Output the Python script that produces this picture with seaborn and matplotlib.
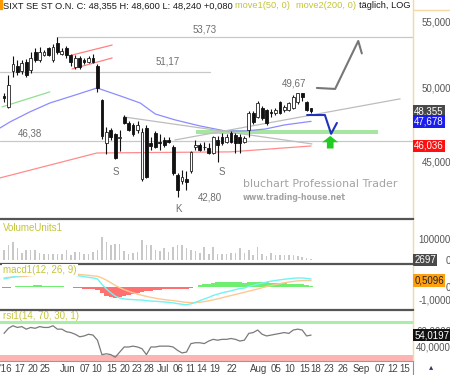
import matplotlib
matplotlib.use('Agg')
import matplotlib.pyplot as plt
import matplotlib.transforms as mtransforms
from matplotlib.patches import Polygon, Rectangle
import numpy as np
import seaborn as sns

sns.set_theme(style='white')
plt.rcParams['font.family'] = ['Liberation Sans', 'DejaVu Sans']

# ---------------- data ----------------
opens = [49.40, 48.67, 51.20, 51.60, 51.20, 51.90, 51.30, 52.60, 52.00, 52.40,
         52.90, 52.00, 53.30, 52.50, 52.90, 52.40, 51.50, 52.20, 52.00, 51.90,
         52.20, 51.60, 49.15, 46.25, 47.10, 46.80, 46.55, 48.00, 47.60, 47.45,
         47.10, 43.90, 47.20, 46.20, 46.90, 46.30, 46.45, 46.40, 46.00, 44.20,
         43.80, 43.90, 44.40, 46.00, 46.10, 46.00, 45.90, 45.58, 46.45, 46.60,
         46.30, 46.90, 46.77, 46.60, 46.30, 47.10, 48.25, 47.98, 48.60, 48.46,
         48.30, 48.25, 49.01, 48.46, 48.46, 48.60, 49.01, 49.65, 49.01, 48.60]
highs = [49.65, 50.93, 52.30, 52.00, 52.00, 52.10, 52.60, 52.90, 53.00, 52.80,
         53.00, 53.20, 53.73, 52.90, 53.10, 52.50, 52.40, 52.30, 52.20, 52.30,
         52.50, 51.70, 49.20, 47.30, 47.20, 46.90, 47.10, 48.10, 47.70, 47.60,
         47.70, 47.20, 47.40, 46.60, 47.00, 46.80, 46.60, 46.60, 46.10, 44.30,
         44.50, 44.40, 45.70, 46.40, 46.20, 46.30, 46.20, 46.70, 46.70, 46.90,
         46.80, 47.00, 46.90, 46.80, 46.70, 48.40, 48.40, 49.10, 48.70, 48.50,
         48.50, 48.60, 49.10, 48.80, 49.00, 49.50, 49.67, 49.67, 49.10, 48.60]
lows = [49.00, 48.60, 50.80, 50.90, 51.00, 50.80, 51.10, 51.90, 51.90, 52.30,
        52.30, 51.90, 52.50, 52.40, 52.20, 51.60, 51.40, 51.40, 51.70, 51.80,
        51.80, 49.70, 46.50, 45.50, 46.40, 45.20, 45.70, 47.50, 47.00, 46.70,
        46.90, 43.80, 44.00, 45.80, 45.90, 45.80, 46.00, 46.20, 44.20, 42.80,
        43.60, 43.25, 44.30, 45.80, 45.70, 45.80, 45.50, 45.50, 45.00, 46.10,
        46.20, 46.20, 45.58, 45.60, 46.20, 46.60, 47.50, 47.90, 47.80, 47.40,
        48.00, 48.10, 48.20, 48.30, 48.40, 48.50, 48.90, 49.10, 48.40, 48.24]
closes = [49.30, 50.21, 51.70, 51.15, 51.80, 50.90, 52.20, 52.00, 52.60, 52.60,
          52.40, 53.00, 52.60, 52.70, 52.40, 51.90, 52.20, 51.50, 51.85, 52.15,
          51.90, 50.00, 46.70, 46.95, 46.60, 45.25, 46.60, 47.57, 47.10, 46.80,
          47.45, 46.97, 44.05, 46.05, 45.98, 46.25, 46.10, 46.30, 44.30, 43.25,
          44.05, 43.75, 45.65, 46.10, 45.78, 45.95, 45.58, 46.60, 46.10, 46.25,
          46.60, 46.30, 46.24, 46.24, 46.57, 48.25, 47.64, 48.94, 47.91, 47.57,
          48.25, 48.46, 48.25, 48.67, 48.94, 49.36, 49.65, 49.36, 48.45, 48.355]
volumes = [50000, 70000, 85000, 55000, 35000, 50000, 50000, 50000, 35000, 30000,
           30000, 30000, 30000, 30000, 50000, 25000, 40000, 40000, 30000, 30000,
           40000, 50000, 110000, 85000, 70000, 75000, 75000, 45000, 30000, 35000,
           40000, 95000, 70000, 70000, 50000, 45000, 55000, 40000, 60000, 70000,
           70000, 55000, 50000, 45000, 35000, 60000, 30000, 60000, 30000, 30000,
           30000, 35000, 35000, 55000, 35000, 50000, 25000, 60000, 30000, 20000,
           35000, 25000, 25000, 25000, 25000, 25000, 20000, 15000, 10000, 2697]
macd_vals = [0.62, 0.69, 0.77, 0.85, 0.88, 0.92, 0.98, 1.02, 1.05, 1.06,
             1.07, 1.08, 1.10, 1.08, 1.04, 0.98, 0.90, 0.85, 0.80, 0.74,
             0.70, 0.62, 0.20, -0.15, -0.45, -0.70, -0.85, -0.92, -0.95, -0.97,
             -0.99, -1.00, -1.05, -1.08, -1.10, -1.12, -1.15, -1.18, -1.22, -1.28,
             -1.33, -1.36, -1.30, -1.18, -1.05, -0.92, -0.80, -0.65, -0.55, -0.45,
             -0.37, -0.30, -0.20, -0.12, -0.08, 0.05, 0.12, 0.22, 0.30, 0.38,
             0.45, 0.50, 0.55, 0.60, 0.63, 0.67, 0.70, 0.69, 0.66, 0.62]
signal_vals = [0.70, 0.74, 0.76, 0.78, 0.80, 0.83, 0.87, 0.90, 0.93, 0.95,
               0.97, 0.99, 1.01, 1.02, 1.02, 1.01, 0.99, 0.96, 0.93, 0.90,
               0.86, 0.82, 0.70, 0.53, 0.33, 0.12, -0.05, -0.20, -0.33, -0.45,
               -0.55, -0.64, -0.72, -0.80, -0.86, -0.92, -0.97, -1.01, -1.05, -1.09,
               -1.14, -1.18, -1.20, -1.20, -1.17, -1.12, -1.06, -0.99, -0.91, -0.83,
               -0.74, -0.66, -0.57, -0.49, -0.41, -0.32, -0.24, -0.15, -0.06, 0.03,
               0.11, 0.19, 0.26, 0.33, 0.38, 0.43, 0.47, 0.49, 0.50, 0.5096]
rsi_vals = [56, 62, 65, 63, 64, 61, 63, 62, 64, 63,
            63, 65, 61, 61, 58, 57, 55, 52, 53, 55,
            54, 48, 31, 32, 31, 28, 34, 40, 40, 41,
            40, 38, 31, 40, 40, 41, 41, 41, 40, 36,
            33, 34, 44, 45, 45, 44, 47, 49, 48, 49,
            49, 50, 49, 47, 48, 56, 57, 60, 55, 53,
            54, 55, 56, 57, 56, 60, 61, 60, 53, 54.0197]

# moving averages (vertices: bar index, price)
ma50_x = [-0.9, 1.35, 5.84, 10.3, 16.0, 20.9, 26.1, 30.6, 34.0, 38.4, 44.0, 49.7, 54.2, 58.7, 63.1, 69.0]
ma50_y = [47.23, 47.64, 48.33, 48.94, 49.50, 50.00, 49.44, 48.94, 48.18, 47.78, 47.37, 47.03, 47.03, 47.16, 47.44, 47.678]
ma200_x = [-0.9, 20.9, 50.8, 69.0]
ma200_y = [43.99, 45.58, 45.65, 46.036]

# drawn analysis objects (bar index, price)
level_prices = [53.73, 51.17, 46.38]
level_starts = [11.9, -0.9, -0.9]
level_ends = [91.9, 46.3, 91.9]
green_line_x, green_line_y = [-0.45, 10.3], [48.67, 49.72]
chan_up_x, chan_up_y = [15.3, 24.3], [52.40, 53.15]
chan_lo_x, chan_lo_y = [15.3, 24.3], [51.37, 52.18]
trend_dn_x, trend_dn_y = [26.9, 69.2], [47.98, 46.17]
trend_up_x, trend_up_y = [38.4, 89.0], [46.43, 49.23]
zone_x, zone_y = [43.1, 84.0], [46.80, 47.07]
proj_blue_x = [68.1, 72.1, 73.5, 74.8]
proj_blue_y = [48.11, 48.11, 46.84, 47.57]
proj_gray_x = [70.3, 74.4, 79.6, 80.4]
proj_gray_y = [50.00, 49.93, 53.46, 52.52]
arrow_x = 73.3
arrow_y = [46.70, 46.28, 45.87]   # tip, head base, tail

tick_labels = ["'16", '17', '20', '25', 'Jun', '07', '10', '15', '20', '23', '28', 'Jul',
               '06', '11', '14', '19', '22', 'Aug', '05', '10', '15', '18', '23', '26',
               'Sep', '07', '12', '15']
tick_pos = [0.4, 3.6, 6.5, 9.2, 14.4, 18.2, 20.9, 24.3, 27.2, 29.9, 32.6, 35.7,
            39.1, 41.8, 44.5, 47.4, 51.2, 57.1, 61.1, 64.3, 67.6, 70.1, 73.0, 76.2,
            80.2, 84.5, 87.4, 90.1]

# ---------------- layout ----------------
W, H = 450, 375
def rect(x0, y0, x1, y1):
    return [x0 / W, 1 - y1 / H, (x1 - x0) / W, (y1 - y0) / H]
def ftxt(x, y, s, **kw):
    return fig.text(x / W, 1 - y / H, s, **kw)

fig = plt.figure(figsize=(4.5, 3.75), dpi=100)
fig.patch.set_facecolor('white')
ax = fig.add_axes(rect(0, 0, 413, 219))
axv = fig.add_axes(rect(0, 221, 413, 264))
axm = fig.add_axes(rect(0, 266, 413, 310))
axr = fig.add_axes(rect(0, 312, 413, 361))
XLIM = (-0.9, 91.9)
FS = 7
OLIVE = '#c4c43a'
LAB = '#555555'

def fmt(v, d):
    return f'{v:.{d}f}'.replace('.', ',')

for a in (ax, axv, axm, axr):
    a.set_facecolor('white')
    a.set_xlim(*XLIM)
    for s in ('top', 'left'):
        a.spines[s].set_visible(False)
    a.spines['right'].set_color('#f2d9a6')
    a.spines['right'].set_linewidth(1.0)
    a.spines['bottom'].set_color('#555555')
    a.spines['bottom'].set_linewidth(1.6)
    a.yaxis.tick_right()
    a.tick_params(axis='y', length=0, pad=27.4, labelsize=FS, labelcolor=LAB)
    a.tick_params(axis='x', length=0)
    a.grid(False)

# ---------- main price panel ----------
ax.set_yscale('log')
ax.set_ylim(41.49, 56.67)
ax.yaxis.set_minor_locator(matplotlib.ticker.NullLocator())
ax.set_yticks([45, 50, 55])
ax.set_yticklabels([fmt(v, 3) for v in (45, 50, 55)])
ax.set_xticks([])

idx = np.arange(len(closes))
o = np.array(opens); c = np.array(closes)
hi = np.array(highs); lo = np.array(lows)
up = c >= o

# analysis objects
for p, s, e in zip(level_prices, level_starts, level_ends):
    ax.plot([s, e], [p, p], color='#c8c8c8', lw=0.9, zorder=1)
ax.fill_between(zone_x, zone_y[0], zone_y[1], color='#a6e6a0', lw=0, zorder=1)
sns.lineplot(x=ma200_x, y=ma200_y, ax=ax, color='#ff8c8c', lw=0.9, sort=False, estimator=None, zorder=2)
sns.lineplot(x=ma50_x, y=ma50_y, ax=ax, color='#8c8cff', lw=0.9, sort=False, estimator=None, zorder=2)
ax.plot(green_line_x, green_line_y, color='#90e090', lw=0.9, zorder=2)
ax.plot(chan_up_x, chan_up_y, color='#ff8080', lw=0.9, zorder=2)
ax.plot(chan_lo_x, chan_lo_y, color='#ff8080', lw=0.9, zorder=2)
ax.plot(trend_dn_x, trend_dn_y, color='#bdbdbd', lw=0.9, zorder=2)
ax.plot(trend_up_x, trend_up_y, color='#bdbdbd', lw=0.9, zorder=2)

# candles
ax.vlines(idx, lo, hi, color='#111111', lw=0.8, zorder=3)
ax.bar(idx[up], np.maximum((c - o)[up], 0.02), bottom=o[up], width=0.62,
       color='white', edgecolor='#222222', linewidth=0.6, zorder=4)
ax.bar(idx[~up], (o - c)[~up], bottom=c[~up], width=0.62,
       color='#111111', edgecolor='#111111', linewidth=0.6, zorder=4)

# projections
ax.plot(proj_blue_x, proj_blue_y, color='#2233bb', lw=1.5, zorder=5)
ax.plot(proj_gray_x, proj_gray_y, color='#777777', lw=1.5, zorder=5)
hw, sw = 1.8, 0.75
arrow = Polygon([[arrow_x, arrow_y[0]], [arrow_x + hw, arrow_y[1]], [arrow_x + sw, arrow_y[1]],
                 [arrow_x + sw, arrow_y[2]], [arrow_x - sw, arrow_y[2]], [arrow_x - sw, arrow_y[1]],
                 [arrow_x - hw, arrow_y[1]]], closed=True, color='#22cc22', lw=0, zorder=6)
ax.add_patch(arrow)

# price labels on right axis
blend = mtransforms.blended_transform_factory(ax.transAxes, ax.transData)
def marker(a, tr, y, s, fc, tc='white'):
    a.text(1.003, y, s, transform=tr, ha='left', va='center', fontsize=FS, color=tc,
           bbox=dict(boxstyle='square,pad=0.12', fc=fc, ec='none'), zorder=10, clip_on=False)
marker(ax, blend, closes[-1], fmt(closes[-1], 3), '#4a4a4a')
marker(ax, blend, ma50_y[-1], fmt(ma50_y[-1], 3), '#1c1cf0')
marker(ax, blend, ma200_y[-1], fmt(ma200_y[-1], 3), '#ff1010')

# texts in main panel
GT = '#6e6e6e'
ftxt(205, 30, fmt(level_prices[0], 2), fontsize=FS, color=GT, ha='center', va='center')
ftxt(168, 62, fmt(level_prices[1], 2), fontsize=FS, color=GT, ha='center', va='center')
ftxt(30, 134, fmt(level_prices[2], 2), fontsize=FS, color=GT, ha='center', va='center')
ftxt(294, 84, fmt(max(highs[55:]), 2), fontsize=FS, color=GT, ha='center', va='center')
ftxt(210, 198, fmt(min(lows), 2), fontsize=FS, color=GT, ha='center', va='center')
ftxt(116, 172, 'S', fontsize=FS, color=GT, ha='center', va='center')
ftxt(222, 172, 'S', fontsize=FS, color=GT, ha='center', va='center')
ftxt(178, 209, 'K', fontsize=FS, color=GT, ha='center', va='center')
ftxt(243, 184, 'bluchart Professional Trader', fontsize=7.9, color='#a3a3a3', ha='left', va='center',
     family='DejaVu Sans')
ftxt(243, 198, 'www.trading-house.net', fontsize=5.6, color='#a3a3a3', ha='left', va='center',
     fontweight='bold', family='DejaVu Sans')

# title
fig.patches.append(Rectangle((0, 1 - 9 / H), 2 / W, 9 / H, transform=fig.transFigure, color='#ff9900'))
TF = 6.7
ftxt(3, 6, 'SIXT SE ST O.N. C: 48,355 H: 48,600 L: 48,240 +0,080', fontsize=TF, color='#1a1a1a', va='center')
ftxt(235, 6, 'move1(50, 0)', fontsize=TF, color=OLIVE, va='center')
ftxt(296, 6, 'move2(200, 0)', fontsize=TF, color=OLIVE, va='center')
ftxt(359, 6, 'täglich, LOG', fontsize=TF, color='#1a1a1a', va='center')
fig.add_artist(plt.Line2D([413 / W, 1], [1 - 10 / H, 1 - 10 / H], transform=fig.transFigure,
                          color='#f2d9a6', lw=1.0))

# ---------- volume ----------
axv.bar(idx, volumes, width=0.35, color='#c8c8c8', lw=0)
axv.set_ylim(-19000, 186000)
axv.set_yticks([0, 100000])
axv.set_yticklabels(['0', '100000'])
axv.set_xticks([])
blv = mtransforms.blended_transform_factory(axv.transAxes, axv.transData)
marker(axv, blv, 0, str(volumes[-1]), '#4a4a4a')
axv.text(0.008, 0.84, 'VolumeUnits1', transform=axv.transAxes, fontsize=FS, color=OLIVE, va='center')

# ---------- MACD ----------
m = np.array(macd_vals); sg = np.array(signal_vals)
hist = m - sg
axm.bar(idx, hist, width=1.0, color=np.where(hist >= 0, '#70ee70', '#ff7070'), lw=0)
sns.lineplot(x=idx, y=signal_vals, ax=axm, color='#ffc890', lw=1.0, estimator=None)
sns.lineplot(x=idx, y=macd_vals, ax=axm, color='#70f4f4', lw=1.0, estimator=None)
axm.set_ylim(-1.77, 1.615)
axm.set_yticks([0, -1])
axm.set_yticklabels(['0', '-1,0000'])
axm.set_xticks([])
blm = mtransforms.blended_transform_factory(axm.transAxes, axm.transData)
marker(axm, blm, signal_vals[-1], fmt(signal_vals[-1], 4), '#ffa010', tc='#222222')
axm.text(0.008, 0.9, 'macd1(12, 26, 9)', transform=axm.transAxes, fontsize=FS, color=OLIVE, va='center',
         bbox=dict(boxstyle='square,pad=0.1', fc='white', ec='none'), zorder=8)

# ---------- RSI ----------
axr.set_ylim(23.5, 81.2)
axr.axhspan(23.5, 30, color='#ffb4b4', lw=0)
axr.axhline(70, color='#a8eea8', lw=2.2)
sns.lineplot(x=idx, y=rsi_vals, ax=axr, color='#7a7a7a', lw=0.9, estimator=None)
axr.set_yticks([40, 60])
axr.set_yticklabels(['40,0000', '60,0000'])
blr = mtransforms.blended_transform_factory(axr.transAxes, axr.transData)
marker(axr, blr, rsi_vals[-1], fmt(rsi_vals[-1], 4), '#111111')
axr.text(0.008, 0.92, 'rsi1(14, 70, 30, 1)', transform=axr.transAxes, fontsize=FS, color=OLIVE, va='center')
axr.spines['bottom'].set_color('#9a9a9a')
axr.spines['bottom'].set_linewidth(0.8)
axr.set_xticks(tick_pos)
axr.set_xticklabels(tick_labels)
axr.tick_params(axis='x', labelsize=FS, labelcolor='#444444', pad=2)

for a in (ax, axv, axm, axr):
    for lab in a.get_yticklabels():
        lab.set_horizontalalignment('right')
    a.set_xlabel(''); a.set_ylabel('')
    if a.get_legend():
        a.get_legend().remove()

# right-hand corner box below the panels
fig.add_artist(plt.Line2D([413 / W, 413 / W], [0, 1 - 362 / H], transform=fig.transFigure, color='#8888bb', lw=0.8))
fig.text(431 / W, 1 - 368 / H, '\u25B4', fontsize=6, color='#333366', ha='center', va='center')

fig.savefig('out.png', dpi=100, facecolor='white')
